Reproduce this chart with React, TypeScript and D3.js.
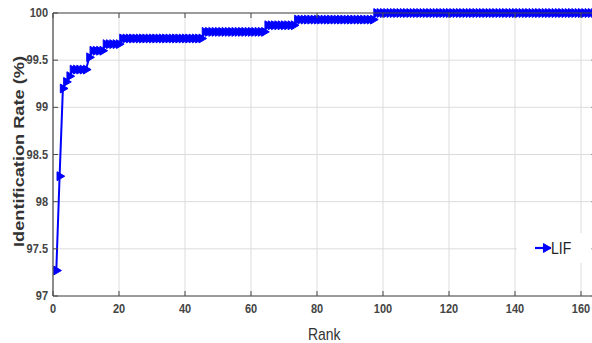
import React from "react";
import * as d3 from "d3";

// Identification rate (%) per rank, stored as runs: each level holds up to and including its last rank
const rateLevels = [97.27, 98.27, 99.2, 99.27, 99.33, 99.4, 99.53, 99.6, 99.67, 99.73, 99.8, 99.87, 99.93, 100];
const levelLastRank = [1, 2, 3, 4, 5, 10, 11, 15, 20, 45, 64, 73, 97, 165];

const xTicks = [0, 20, 40, 60, 80, 100, 120, 140, 160];
const yTicks = [97, 97.5, 98, 98.5, 99, 99.5, 100];
const seriesName = "LIF";

const W = 592;
const H = 343;
const margin = { left: 53, top: 13, right: -5.5, bottom: 47 };

type Pt = { rank: number; rate: number };

function buildSeries(): Pt[] {
  const pts: Pt[] = [];
  let rank = 1;
  rateLevels.forEach((rate, i) => {
    for (; rank <= levelLastRank[i]; rank++) pts.push({ rank, rate });
  });
  return pts;
}

export default function App() {
  const data = buildSeries();
  const x = d3.scaleLinear().domain([0, 165]).range([margin.left, W - margin.right]);
  const y = d3.scaleLinear().domain([97, 100]).range([H - margin.bottom, margin.top]);
  const line = d3
    .line<Pt>()
    .x((d) => x(d.rank))
    .y((d) => y(d.rate));
  const tri = d3.symbol().type(d3.symbolTriangle).size(34)();
  const font = "'Liberation Sans', Arial, Helvetica, sans-serif";
  const x0 = x.range()[0];
  const x1 = x.range()[1];
  const y0 = y.range()[0];
  const y1 = y.range()[1];
  const axisColor = "#4a4a4a";
  const gridColor = "#dcdcdc";

  return (
    <svg
      width={W}
      height={H}
      style={{ position: "absolute", left: 0, top: 0, background: "#fff" }}
    >
      <rect x={0} y={0} width={W} height={H} fill="#fff" />
      {/* grid */}
      {xTicks.map((t) => (
        <line key={"gx" + t} x1={x(t)} x2={x(t)} y1={y1} y2={y0} stroke={gridColor} strokeWidth={1} />
      ))}
      {yTicks.map((t) => (
        <line key={"gy" + t} x1={x0} x2={x1} y1={y(t)} y2={y(t)} stroke={gridColor} strokeWidth={1} />
      ))}
      {/* legend box */}
      <rect x={517} y={233} width={90} height={30} fill="#fff" />
      {/* series */}
      <path d={line(data) || ""} fill="none" stroke="#0000ff" strokeWidth={2} />
      {data.map((d) => (
        <path
          key={d.rank}
          d={tri || ""}
          transform={`translate(${x(d.rank)},${y(d.rate)}) rotate(90)`}
          fill="#0000ff"
          stroke="#0000ff"
          strokeWidth={1}
        />
      ))}
      {/* axes box */}
      <line x1={x0} x2={x1} y1={y1} y2={y1} stroke={axisColor} strokeWidth={1.2} />
      <line x1={x0} x2={x1} y1={y0} y2={y0} stroke={axisColor} strokeWidth={1.2} />
      <line x1={x0} x2={x0} y1={y1} y2={y0} stroke={axisColor} strokeWidth={1.2} />
      <line x1={x1} x2={x1} y1={y1} y2={y0} stroke={axisColor} strokeWidth={1.2} />
      {/* ticks */}
      {xTicks.map((t) => (
        <g key={"tx" + t}>
          <line x1={x(t)} x2={x(t)} y1={y0} y2={y0 - 5} stroke={axisColor} />
          <line x1={x(t)} x2={x(t)} y1={y1} y2={y1 + 5} stroke={axisColor} />
          <text
            transform={`translate(${x(t)},${y0 + 17}) scale(1,1.2)`}
            textAnchor="middle"
            fontFamily={font}
            fontSize={11}
            fontWeight="bold"
            fill="#444"
          >
            {t}
          </text>
        </g>
      ))}
      {yTicks.map((t) => (
        <g key={"ty" + t}>
          <line x1={x0} x2={x0 + 5} y1={y(t)} y2={y(t)} stroke={axisColor} />
          <line x1={x1} x2={x1 - 6} y1={y(t)} y2={y(t)} stroke={axisColor} />
          <text
            transform={`translate(${x0 - 5},${y(t) + 4}) scale(1,1.1)`}
            textAnchor="end"
            fontFamily={font}
            fontSize={11}
            fontWeight="bold"
            fill="#444"
          >
            {t}
          </text>
        </g>
      ))}
      {/* axis titles */}
      <text
        transform={`translate(${(x0 + x1) / 2 - 1},340) scale(1,1.2)`}
        textAnchor="middle"
        fontFamily={font}
        fontSize={14}
        fill="#333"
      >
        Rank
      </text>
      <text
        transform={`translate(24,${(y0 + y1) / 2 - 3}) rotate(-90) scale(1.3,1)`}
        textAnchor="middle"
        fontFamily={font}
        fontSize={14}
        fontWeight="bold"
        fill="#333"
      >
        Identification Rate (%)
      </text>
      {/* legend entry */}
      <line x1={535} x2={551} y1={248} y2={248} stroke="#0000ff" strokeWidth={2.2} />
      <path d={tri || ""} transform="translate(546,248) rotate(90)" fill="#0000ff" stroke="#0000ff" strokeWidth={1} />
      <text
        transform="translate(551,254) scale(1,1.2)"
        fontFamily={font}
        fontSize={14}
        fill="#222"
      >
        {seriesName}
      </text>
    </svg>
  );
}
